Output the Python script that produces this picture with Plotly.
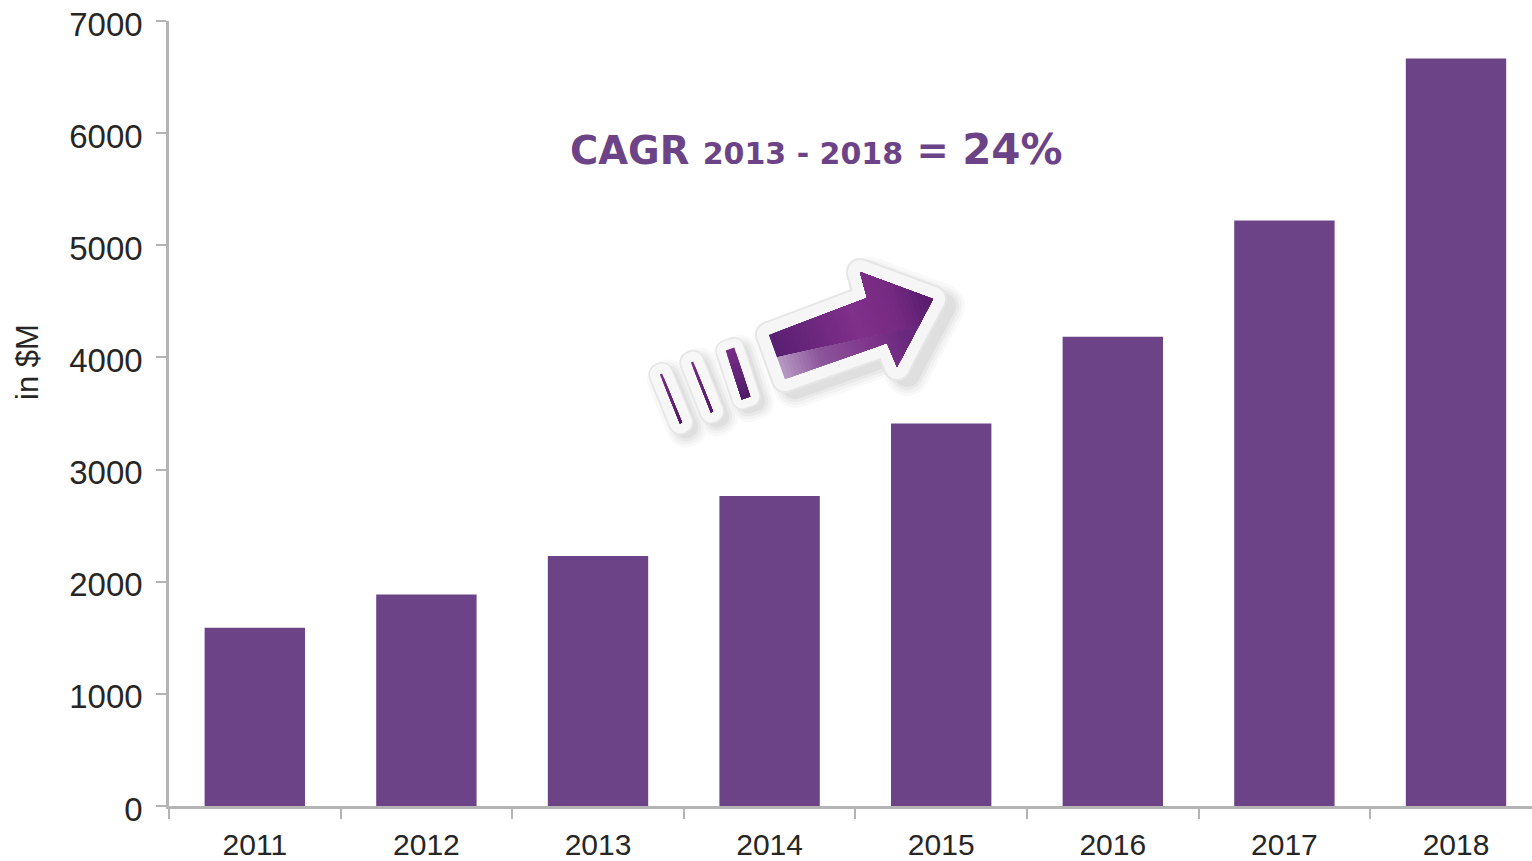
import plotly.graph_objects as go

years = ["2011", "2012", "2013", "2014", "2015", "2016", "2017", "2018"]
revenue = [1590, 1885, 2230, 2765, 3410, 4185, 5220, 6665]
y_ticks = [0, 1000, 2000, 3000, 4000, 5000, 6000, 7000]

BAR = "#6d4387"
INK = "#262626"
AXIS = "#b4b4b4"
W, H = 1532, 861
L, R, T, B = 169, 1532, 21, 806


def paper(pt):
    return (pt[0] - L) / (R - L), 1 - (pt[1] - T) / (B - T)


def poly_path(points):
    coords = [paper(p) for p in points]
    return "M" + " L".join(f"{x:.5f},{y:.5f}" for x, y in coords) + " Z"


def clip(points, a, b, c):
    """Keep the part of a polygon where a*x + b*y >= c."""
    out = []
    for i, p in enumerate(points):
        q = points[(i + 1) % len(points)]
        dp = a * p[0] + b * p[1] - c
        dq = a * q[0] + b * q[1] - c
        if dp >= 0:
            out.append(p)
        if dp * dq < 0:
            t = dp / (dp - dq)
            out.append((p[0] + t * (q[0] - p[0]), p[1] + t * (q[1] - p[1])))
    return out


def mix(stops, t):
    for (t0, c0), (t1, c1) in zip(stops, stops[1:]):
        if t <= t1:
            f = (t - t0) / (t1 - t0)
            rgb = [round(c0[i] + f * (c1[i] - c0[i])) for i in range(3)]
            return f"rgb({rgb[0]},{rgb[1]},{rgb[2]})"
    c = stops[-1][1]
    return f"rgb({c[0]},{c[1]},{c[2]})"


def fill_shape(points, color):
    return dict(type="path", xref="paper", yref="paper", path=poly_path(points),
                fillcolor=color, line=dict(width=0))


def outline(points, radius, color, dx=0, dy=0):
    """Polygon grown by a radius with rounded corners: body, edge strips and corner discs."""
    moved = [(x + dx, y + dy) for x, y in points]
    shapes = [fill_shape(moved, color)]
    for i, p in enumerate(moved):
        q = moved[(i + 1) % len(moved)]
        d = ((q[0] - p[0]) ** 2 + (q[1] - p[1]) ** 2) ** 0.5
        ox, oy = (q[1] - p[1]) / d * radius, (p[0] - q[0]) / d * radius
        shapes.append(fill_shape([(p[0] + ox, p[1] + oy), (q[0] + ox, q[1] + oy),
                                  (q[0] - ox, q[1] - oy), (p[0] - ox, p[1] - oy)], color))
        x0, y0 = paper((p[0] - radius, p[1] - radius))
        x1, y1 = paper((p[0] + radius, p[1] + radius))
        shapes.append(dict(type="circle", xref="paper", yref="paper",
                           x0=x0, x1=x1, y0=y0, y1=y1,
                           fillcolor=color, line=dict(width=0)))
    return shapes


def banded(points, stops, start, end, steps=36):
    """Paint a polygon with a colour ramp running from start to end."""
    ax, ay = end[0] - start[0], end[1] - start[1]
    shapes = []
    for k in range(steps):
        t = k / steps
        c = ax * (start[0] + t * ax) + ay * (start[1] + t * ay)
        part = clip(points, ax, ay, c)
        if len(part) > 2:
            shapes.append(fill_shape(part, mix(stops, t + 0.5 / steps)))
    return shapes


# Growth arrow, in page pixels
arrow = [(769, 335), (867, 298), (860, 272), (933, 299), (897, 367), (887, 343), (785, 379)]
dashes = [
    ([(661, 374), (681, 423)], 1.2, 10),
    ([(692, 362), (712, 412)], 1.2, 10),
    ([(730, 349), (746, 398)], 4.5, 9),
]
gloss_a, gloss_b = (778, 357), (917, 327)
nx, ny = gloss_b[1] - gloss_a[1], gloss_a[0] - gloss_b[0]
nc = nx * gloss_a[0] + ny * gloss_a[1]
arrow_top = clip(arrow, nx, ny, nc)
arrow_low = clip(arrow, -nx, -ny, -nc)

top_ramp = [(0, (86, 30, 112)), (0.55, (128, 48, 138)), (0.8, (118, 42, 130)), (1, (88, 30, 112))]
low_ramp = [(0, (190, 165, 200)), (0.35, (140, 85, 155)), (0.7, (128, 55, 140)), (1, (105, 40, 125))]
dash_ramp = [(0, (120, 45, 135)), (1, (78, 26, 104))]


def dash_quad(seg, half):
    (x0, y0), (x1, y1) = seg
    d = ((x1 - x0) ** 2 + (y1 - y0) ** 2) ** 0.5
    ox, oy = (y1 - y0) / d * half, (x0 - x1) / d * half
    return [(x0 + ox, y0 + oy), (x1 + ox, y1 + oy), (x1 - ox, y1 - oy), (x0 - ox, y0 - oy)]


shapes = []
# soft drop shadow: stacked outlines from faint and wide to darker and narrow
for radius, tone in [(22, "#f9f9f9"), (19, "#f2f2f2"), (16, "#e9e9e9"), (13, "#dfdfdf")]:
    shapes += outline(arrow, radius, tone, dx=10, dy=7)
    for seg, half, pad in dashes:
        shapes += outline(dash_quad(seg, half), pad + radius - 13, tone, dx=6, dy=5)
# raised sticker edge
shapes += outline(arrow, 14, "#e6e6e6")
shapes += outline(arrow, 12, "#f6f6f6")
for seg, half, pad in dashes:
    quad = dash_quad(seg, half)
    shapes += outline(quad, pad + 1.5, "#e6e6e6")
    shapes += outline(quad, pad, "#f7f7f7")
    shapes += banded(quad, dash_ramp, seg[0], seg[1], steps=10)
shapes += banded(arrow_top, top_ramp, (769, 350), (925, 295))
shapes += banded(arrow_low, low_ramp, (775, 372), (905, 330))

fig = go.Figure(go.Bar(x=years, y=revenue, marker=dict(color=BAR, line=dict(width=0)), width=0.585))

fig.update_layout(
    width=W, height=H, autosize=False,
    margin=dict(l=L, r=W - R, t=T, b=H - B, autoexpand=False),
    paper_bgcolor="white", plot_bgcolor="white",
    showlegend=False,
    font=dict(family="Liberation Sans, Arial, sans-serif", color=INK),
    shapes=shapes,
    annotations=[
        dict(
            xref="paper", yref="paper",
            x=(816 - L) / (R - L), y=1 - (150 - T) / (B - T),
            xanchor="center", yanchor="middle", showarrow=False,
            font=dict(family="DejaVu Sans", color=BAR, size=38.5),
            text="<b>CAGR <span style='font-size:30px'>2013 - 2018</span> = "
                 "<span style='font-size:42px'>24%</span></b>",
        ),
        dict(
            xref="paper", yref="paper",
            x=(27 - L) / (R - L), y=1 - (362 - T) / (B - T),
            xanchor="center", yanchor="middle", showarrow=False, textangle=-90,
            font=dict(size=31, color=INK), text="in $M",
        ),
    ],
)
fig.update_xaxes(
    type="category", range=[-0.5, -0.5 + (R - L) / 171.6], automargin=False,
    tickson="boundaries", ticks="outside", ticklen=10, tickwidth=2, tickcolor=AXIS,
    showline=True, linecolor=AXIS, linewidth=2.5, showgrid=False, zeroline=False,
    tickfont=dict(size=30, color=INK), ticklabelstandoff=10,
)
fig.update_yaxes(
    range=[0, 7000], tickvals=y_ticks, automargin=False,
    ticks="outside", ticklen=10, tickwidth=2, tickcolor=AXIS,
    showline=True, linecolor=AXIS, linewidth=2.5, showgrid=False, zeroline=False,
    tickfont=dict(size=33, color=INK), ticklabelstandoff=7, ticklabelshift=3,
)

fig.write_html("out.html")
